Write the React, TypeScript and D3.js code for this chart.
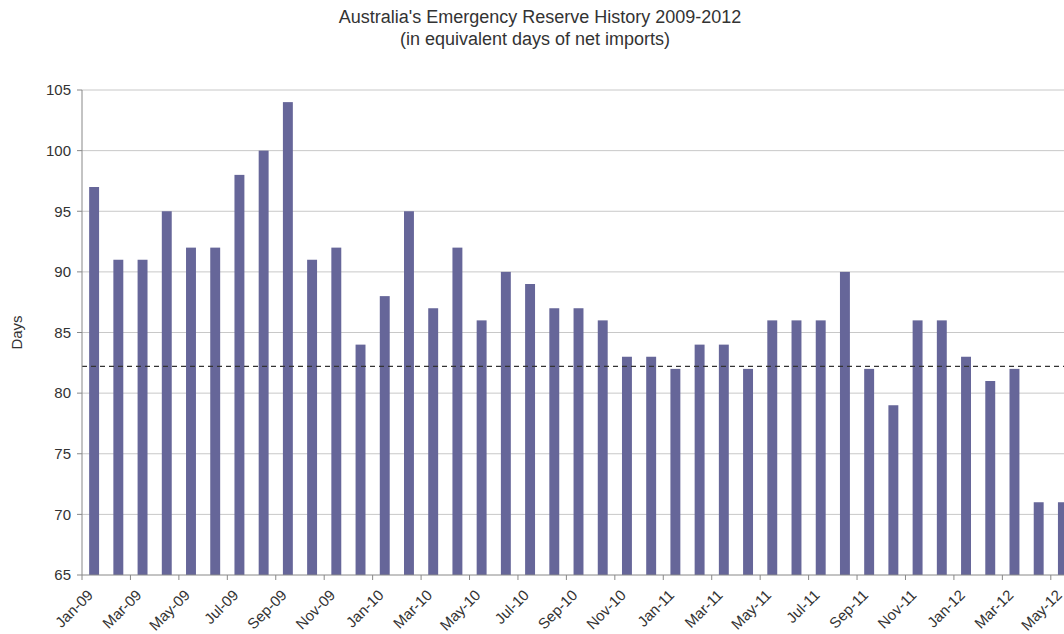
import React from 'react';
import * as d3 from 'd3';

const months = [
  'Jan-09', 'Feb-09', 'Mar-09', 'Apr-09', 'May-09', 'Jun-09', 'Jul-09', 'Aug-09', 'Sep-09', 'Oct-09', 'Nov-09', 'Dec-09',
  'Jan-10', 'Feb-10', 'Mar-10', 'Apr-10', 'May-10', 'Jun-10', 'Jul-10', 'Aug-10', 'Sep-10', 'Oct-10', 'Nov-10', 'Dec-10',
  'Jan-11', 'Feb-11', 'Mar-11', 'Apr-11', 'May-11', 'Jun-11', 'Jul-11', 'Aug-11', 'Sep-11', 'Oct-11', 'Nov-11', 'Dec-11',
  'Jan-12', 'Feb-12', 'Mar-12', 'Apr-12', 'May-12',
];
const days = [
  97, 91, 91, 95, 92, 92, 98, 100, 104, 91, 92, 84,
  88, 95, 87, 92, 86, 90, 89, 87, 87, 86, 83, 83,
  82, 84, 84, 82, 86, 86, 86, 90, 82, 79, 86, 86,
  83, 81, 82, 71, 71,
];
const yTicks = [65, 70, 75, 80, 85, 90, 95, 100, 105];
const reserveLine = 82.2;

const W = 1064;
const H = 634;
const left = 82;
const top = 90;
const bottom = 575;
const step = 24.22;

const App = () => {
  const x = d3.scaleBand<string>()
    .domain(months)
    .range([left, left + step * months.length])
    .paddingInner(0.59)
    .paddingOuter(0.295);
  const y = d3.scaleLinear().domain([65, 105]).range([bottom, top]);
  const font = 'Liberation Sans, Arial, sans-serif';
  const bandStart = (m: string) => x(m)! - x.step() * 0.295;

  return (
    <svg width={W} height={H} style={{ position: 'absolute', left: 0, top: 0 }} fontFamily={font}>
      <rect width={W} height={H} fill="#fff" />
      <text x={540} y={23} textAnchor="middle" fontSize={18} fill="#333">Australia's Emergency Reserve History 2009-2012</text>
      <text x={535} y={45} textAnchor="middle" fontSize={18} fill="#333">(in equivalent days of net imports)</text>

      {yTicks.map(t => (
        <g key={t}>
          {t !== 65 && <line x1={left} x2={W} y1={y(t)} y2={y(t)} stroke="#c8c8c8" strokeWidth={1} />}
          <line x1={left - 5} x2={left} y1={y(t)} y2={y(t)} stroke="#888" />
          <text x={71} y={y(t)} dy="0.35em" textAnchor="end" fontSize={15} fill="#333">{t}</text>
        </g>
      ))}

      {months.map((m, i) => (
        <rect key={m} x={x(m)} y={y(days[i])} width={x.bandwidth()} height={bottom - y(days[i])} fill="#666699" />
      ))}

      <line x1={left} x2={W} y1={y(reserveLine)} y2={y(reserveLine)} stroke="#333" strokeDasharray="5,4" strokeWidth={1.2} />

      <line x1={left} x2={left} y1={top} y2={bottom} stroke="#888" />
      <line x1={left} x2={W} y1={bottom} y2={bottom} stroke="#888" />

      {months.map((m, i) => i % 2 === 0 && (
        <g key={m}>
          <line x1={bandStart(m)} x2={bandStart(m)} y1={bottom} y2={bottom + 5} stroke="#888" />
          <text transform={`translate(${bandStart(m) + 12},${bottom + 21}) rotate(-45)`} textAnchor="end" fontSize={15} fill="#333">{m}</text>
        </g>
      ))}

      <text transform={`translate(22,${(top + bottom) / 2}) rotate(-90)`} textAnchor="middle" fontSize={15} fill="#333">Days</text>
    </svg>
  );
};

export default App;
